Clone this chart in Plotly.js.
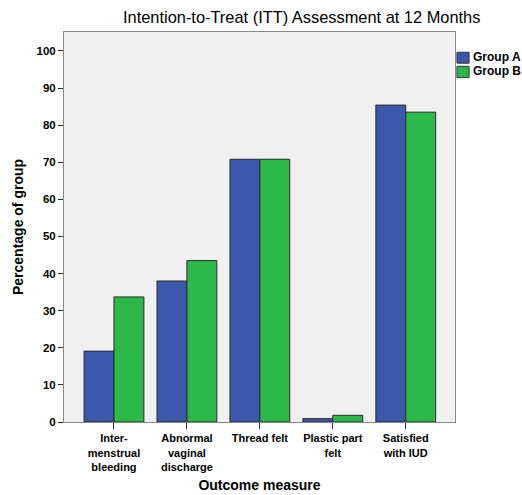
<!DOCTYPE html>
<html>
<head>
<meta charset="utf-8">
<script src="https://cdn.plot.ly/plotly-3.0.1.min.js"></script>
<style>html,body{margin:0;padding:0;background:#fff;}#chart{width:522px;height:495px;}</style>
</head>
<body>
<div id="chart"></div>
<script>
var categories = ["Inter-<br>menstrual<br>bleeding", "Abnormal<br>vaginal<br>discharge", "Thread felt", "Plastic part<br>felt", "Satisfied<br>with IUD"];
var groupA = [19.1, 38.0, 70.8, 0.9, 85.4];
var groupB = [33.7, 43.5, 70.8, 1.8, 83.5];
var seriesNames = ["Group A", "Group B"];
var seriesColors = ["#3D57AB", "#2DB84A"];
var yTicks = [0, 10, 20, 30, 40, 50, 60, 70, 80, 90, 100];

var fam = "Liberation Sans, Arial, sans-serif";
var traces = [groupA, groupB].map(function (vals, i) {
  return {type: "bar", name: seriesNames[i], x: categories, y: vals,
          marker: {color: seriesColors[i], line: {color: "#2a2a2a", width: 1}}};
});

// manual legend (swatch + label) placed to the right of the plot frame
var legendRows = [{y0: 0.920, y1: 0.948, yc: 0.935}, {y0: 0.883, y1: 0.912, yc: 0.899}];
var shapes = legendRows.map(function (r, i) {
  return {type: "rect", xref: "paper", yref: "paper", x0: 1.005, x1: 1.036, y0: r.y0, y1: r.y1,
          fillcolor: seriesColors[i], line: {color: "#333", width: 1}};
});
var annotations = legendRows.map(function (r, i) {
  return {xref: "paper", yref: "paper", x: 1.041, y: r.yc, xanchor: "left", yanchor: "middle",
          showarrow: false, text: seriesNames[i],
          font: {family: fam, size: 12, color: "#000", weight: "bold"}};
});

var layout = {
  width: 522, height: 495,
  margin: {l: 64, r: 67, t: 32, b: 73, autoexpand: false},
  paper_bgcolor: "#ffffff",
  plot_bgcolor: "#F0F0F0",
  barmode: "group",
  bargap: 0.18,
  bargroupgap: 0,
  showlegend: false,
  title: {text: "Intention-to-Treat (ITT) Assessment at 12 Months",
          font: {family: fam, size: 16.4, color: "#000"},
          x: 0.578, xanchor: "center", y: 0.966, yanchor: "middle"},
  xaxis: {
    range: [-0.685, 4.675],
    showgrid: false, zeroline: false,
    showline: true, linecolor: "#888", linewidth: 1, mirror: true,
    ticks: "outside", ticklen: 6, tickcolor: "#333", tickwidth: 1,
    tickfont: {family: fam, size: 11, color: "#000", weight: "bold"},
    title: {text: "Outcome measure", font: {family: fam, size: 14, color: "#000", weight: "bold"}, standoff: 8},
    automargin: false
  },
  yaxis: {
    range: [0, 105.1],
    tickvals: yTicks,
    showgrid: false, zeroline: false,
    showline: true, linecolor: "#888", linewidth: 1, mirror: true,
    ticks: "outside", ticklen: 5, tickcolor: "#333", tickwidth: 1,
    tickfont: {family: fam, size: 11.5, color: "#000", weight: "bold"},
    title: {text: "Percentage of group", font: {family: fam, size: 14, color: "#000", weight: "bold"}, standoff: 9},
    automargin: false
  },
  shapes: shapes,
  annotations: annotations
};
Plotly.newPlot("chart", traces, layout, {displayModeBar: false, staticPlot: true});
</script>
</body>
</html>
